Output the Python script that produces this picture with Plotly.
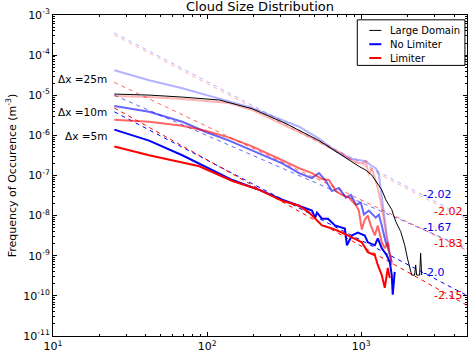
import math
import plotly.graph_objects as go

# ---------------- data ----------------
# Large Domain (black)
ld_x = [25, 42, 69, 120, 196, 326, 532, 831, 964, 1071, 1171, 1358, 1442, 1577, 1674, 1803,
        1914, 2000, 2061, 2124, 2220, 2254, 2287, 2393, 2427, 2466]
ld_y = [1.07e-5, 1.01e-5, 9.0e-6, 7.6e-6, 4.6e-6, 1.95e-6, 7.4e-7, 2.4e-7, 1.7e-7, 1.36e-7,
        1.02e-7, 4.4e-8, 2.5e-8, 1.41e-8, 7.1e-9, 4.0e-9, 1.82e-9, 8.2e-10, 5.2e-10, 3.3e-10,
        3.3e-10, 5.9e-10, 3.3e-10, 3.3e-10, 1.16e-9, 3.3e-10]

# No Limiter, dx = 25 m (light blue)
nl25_x = [25, 42, 69, 120, 196, 326, 395, 532, 685, 831, 964, 1071, 1153, 1242, 1300, 1339,
          1380, 1421, 1463, 1507]
nl25_y = [4.2e-5, 2.37e-5, 1.5e-5, 8.05e-6, 4.84e-6, 2.19e-6, 1.65e-6, 8.3e-7, 4.0e-7, 2.7e-7,
          2.4e-7, 2.26e-7, 1.8e-7, 1.52e-7, 1.08e-7, 4.9e-8, 2.1e-8, 8.0e-9, 3.2e-9, 1.63e-9]

# Limiter, dx = 25 m (light red)
l25_x = [25, 42, 69, 139, 196, 326, 532, 645, 749, 831, 922, 1009, 1071, 1119, 1171, 1242,
         1300, 1358, 1400, 1442, 1463, 1507]
l25_y = [9.6e-6, 9.0e-6, 8.05e-6, 6.4e-6, 4.3e-6, 1.74e-6, 7.0e-7, 4.7e-7, 3.56e-7, 2.68e-7,
         2.14e-7, 2.0e-7, 2.26e-7, 1.02e-7, 1.52e-7, 7.3e-8, 3.7e-8, 1.57e-8, 8.0e-9, 4.5e-9,
         2.87e-9, 1.45e-9]

# No Limiter, dx = 10 m (medium blue)
nl10_x = [25, 42, 69, 99, 139, 196, 307, 395, 479, 532, 590, 645, 716, 795, 857, 922, 994,
          1040, 1119, 1242, 1300, 1358, 1442, 1486, 1531, 1577]
nl10_y = [5.4e-6, 3.86e-6, 2.19e-6, 1.2e-6, 7.4e-7, 4.2e-7, 2.0e-7, 1.15e-7, 8.6e-8, 1.15e-7,
          7.3e-8, 4.1e-8, 4.9e-8, 2.8e-8, 3.3e-8, 1.87e-8, 2.1e-8, 1.06e-8, 1.33e-8, 8.9e-9,
          1.06e-8, 5.7e-9, 2.16e-9, 1.63e-9, 1.03e-9, 6.95e-10]

# Limiter, dx = 10 m (medium red)
l10_x = [25, 42, 69, 99, 139, 196, 307, 395, 479, 556, 617, 685, 749, 831, 922, 964, 1009,
         1054, 1103, 1153, 1225, 1280, 1358, 1421, 1486, 1531, 1577]
l10_y = [2.45e-6, 2.19e-6, 1.74e-6, 1.29e-6, 8.8e-7, 5.3e-7, 2.4e-7, 1.52e-7, 1.15e-7, 8.15e-8,
         7.7e-8, 4.1e-8, 3.3e-8, 2.8e-8, 1.87e-8, 1.33e-8, 4.5e-9, 8.0e-9, 1.0e-8, 5.7e-9,
         3.2e-9, 5.7e-9, 2.16e-9, 1.54e-9, 2.16e-9, 1.03e-9, 5.9e-10]

# No Limiter, dx = 5 m (blue)
nl5_x = [25, 42, 69, 89, 146, 218, 307, 378, 438, 479, 501, 516, 556, 608, 675, 783, 807, 869,
         950, 1054, 1103, 1225, 1280, 1358, 1463, 1531, 1577, 1600, 1648]
nl5_y = [1.39e-6, 7.4e-7, 3.2e-7, 2.0e-7, 7.7e-8, 4.4e-8, 2.5e-8, 1.87e-8, 1.49e-8, 1.33e-8,
         8.9e-9, 1.19e-8, 8.4e-9, 8.4e-9, 5.7e-9, 4.8e-9, 1.82e-9, 3.2e-9, 3.8e-9, 3.2e-9,
         2.16e-9, 1.82e-9, 2.7e-9, 1.54e-9, 1.03e-9, 6.95e-10, 3.3e-10, 1.07e-10, 3.95e-10]

# Limiter, dx = 5 m (red)
l5_x = [25, 42, 69, 89, 146, 218, 307, 395, 459, 556, 645, 749, 869, 1009, 1103, 1225, 1280,
        1358, 1421, 1463, 1486, 1531]
l5_y = [5.3e-7, 3.2e-7, 2.1e-7, 1.7e-7, 7.3e-8, 4.4e-8, 2.34e-8, 1.76e-8, 1.19e-8, 5.7e-9,
        4.8e-9, 3.8e-9, 2.87e-9, 2.16e-9, 1.23e-9, 1.03e-9, 5.9e-10, 3.3e-10, 1.59e-10, 3.3e-10,
        4.95e-10, 2.8e-10]

# power-law fits: order nl25, l25, nl10, l10, nl5, l5
fit_slopes = [-2.02, -2.02, -1.67, -1.83, -2.0, -2.15]
fit_at25 = [3.6e-4, 3.2e-4, 1.0e-5, 2.1e-5, 3.86e-6, 4.84e-6]
fit_x_range = [25, 6000]
fit_labels = ["-2.02", "-2.02", "-1.67", "-1.83", "-2.0", "-2.15"]
fit_label_x = [2500, 2950, 2500, 2950, 2500, 2950]
fit_label_y = [3.29e-8, 1.26e-8, 5.06e-9, 2.04e-9, 3.72e-10, 1.01e-10]

res_labels = ["\u0394x =25m", "\u0394x =10m", "\u0394x =5m"]
res_label_x = [22.3, 22.3, 22.3]
res_label_y = [2.5e-5, 3.86e-6, 9.6e-7]

x_tickvals = [10, 100, 1000]
x_ticktext = ["10<sup>1</sup>", "10<sup>2</sup>", "10<sup>3</sup>"]
y_tickvals = [1e-3, 1e-4, 1e-5, 1e-6, 1e-7, 1e-8, 1e-9, 1e-10, 1e-11]
y_ticktext = ["10<sup>-%d</sup>" % k for k in range(3, 12)]
x_minor = [m * 10 ** e for e in range(1, 4) for m in range(2, 10)]
y_minor = [m * 10.0 ** e for e in range(-11, -3) for m in range(2, 10)]

legend_names = ["Large Domain", "No Limiter", "Limiter"]

# ---------------- styles ----------------
FONT = "DejaVu Sans"
BLUE = "rgba(0,0,255,{a})"
RED = "rgba(255,0,0,{a})"
A_LIGHT, A_MED, A_DARK = 0.3, 0.6, 1.0

series = [
    (nl25_x, nl25_y, BLUE.format(a=A_LIGHT), 2, "No Limiter 25m"),
    (l25_x, l25_y, RED.format(a=A_LIGHT), 2, "Limiter 25m"),
    (ld_x, ld_y, "black", 1, "Large Domain"),
    (nl10_x, nl10_y, BLUE.format(a=A_MED), 2, "No Limiter 10m"),
    (l10_x, l10_y, RED.format(a=A_MED), 2, "Limiter 10m"),
    (nl5_x, nl5_y, BLUE.format(a=A_DARK), 2, "No Limiter 5m"),
    (l5_x, l5_y, RED.format(a=A_DARK), 2, "Limiter 5m"),
]
fit_colors = [BLUE.format(a=A_LIGHT), RED.format(a=A_LIGHT), BLUE.format(a=A_MED),
              RED.format(a=A_MED), BLUE.format(a=A_DARK), RED.format(a=A_DARK)]
label_colors = ["#0000ee", "#ee0000"] * 3

fig = go.Figure()

for slope, amp, col in zip(fit_slopes, fit_at25, fit_colors):
    fx = fit_x_range
    fy = [amp * (xx / 25.0) ** slope for xx in fx]
    fig.add_trace(go.Scatter(x=fx, y=fy, mode="lines", showlegend=False,
                             line=dict(color=col, width=1, dash="4px,4px")))

for xs, ys, col, w, name in series:
    fig.add_trace(go.Scatter(x=xs, y=ys, mode="lines", name=name, showlegend=False,
                             line=dict(color=col, width=w)))

annotations = []
for t, lx, ly, c in zip(fit_labels, fit_label_x, fit_label_y, label_colors):
    annotations.append(dict(x=math.log10(lx), y=math.log10(ly), text=t, showarrow=False,
                            xanchor="left", yanchor="middle", xshift=-2,
                            font=dict(family=FONT, size=11, color=c)))
for t, lx, ly in zip(res_labels, res_label_x, res_label_y):
    annotations.append(dict(x=math.log10(lx), y=math.log10(ly), text=t, showarrow=False,
                            xanchor="right", yanchor="middle", xshift=2,
                            font=dict(family=FONT, size=10.5, color="black")))

# manual legend (matplotlib style, compact)
leg_colors = ["black", "rgb(0,0,255)", "rgb(255,0,0)"]
leg_widths = [1, 2, 2]
leg_rows = [0.952, 0.909, 0.866]
shapes = [dict(type="rect", xref="paper", yref="paper", x0=0.735, x1=0.995, y0=0.843, y1=0.985,
               line=dict(color="black", width=1), fillcolor="white", layer="above")]
for name, c, w, yy in zip(legend_names, leg_colors, leg_widths, leg_rows):
    shapes.append(dict(type="line", xref="paper", yref="paper", x0=0.764, x1=0.793, y0=yy, y1=yy,
                       line=dict(color=c, width=w), layer="above"))
    annotations.append(dict(xref="paper", yref="paper", x=0.808, y=yy, text=name, showarrow=False,
                            xanchor="left", yanchor="middle",
                            font=dict(family=FONT, size=10, color="black")))

axis_common = dict(type="log", showgrid=False, zeroline=False, showline=True, linecolor="black",
                   linewidth=1, mirror="allticks", ticks="inside", ticklen=4, tickcolor="black",
                   tickfont=dict(family=FONT, size=11, color="black"))

fig.update_layout(
    width=473, height=358,
    margin=dict(l=53, r=5, t=15, b=18),
    paper_bgcolor="white", plot_bgcolor="white",
    font=dict(family=FONT, size=11, color="black"),
    title=dict(text="Cloud Size Distribution", x=0.5, xref="paper", xanchor="center",
               y=1 - 6.5 / 358, yanchor="middle", font=dict(family=FONT, size=13, color="black")),
    xaxis=dict(range=[1, 3.686], tickvals=x_tickvals, ticktext=x_ticktext,
               minor=dict(ticks="inside", ticklen=2, tickcolor="black", tickvals=x_minor,
                          showgrid=False),
               **axis_common),
    yaxis=dict(range=[-11, -3], tickvals=y_tickvals, ticktext=y_ticktext,
               minor=dict(ticks="inside", ticklen=2, tickcolor="black", tickvals=y_minor,
                          showgrid=False),
               title=dict(text="Frequency of Occurence (m<sup>-3</sup>)", standoff=4,
                          font=dict(family=FONT, size=11, color="black")),
               **axis_common),
    annotations=annotations,
    shapes=shapes,
    showlegend=False,
)

fig.write_html("out.html")
